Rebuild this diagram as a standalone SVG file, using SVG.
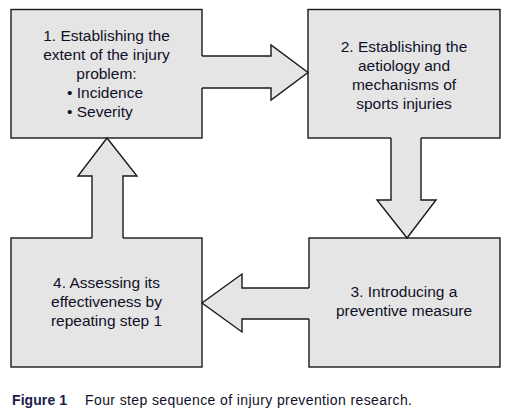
<svg xmlns="http://www.w3.org/2000/svg" width="512" height="420" viewBox="0 0 512 420">
<style>
.box{fill:#e5e5e5;stroke:#1a1a1a;stroke-width:1.4}
.af{fill:#e5e5e5;stroke:none}
.as{fill:none;stroke:#1a1a1a;stroke-width:1.4;stroke-linejoin:miter}
.t{font-family:"Liberation Sans",Arial,sans-serif;font-size:15.5px;fill:#101028;text-anchor:middle}
.tl{text-anchor:start}
.cap{font-family:"Liberation Sans",Arial,sans-serif;font-size:14px;fill:#101028}
.capb{font-weight:bold;fill:#1c1c4a}
</style>
<rect width="512" height="420" fill="#ffffff"/>
<g id="node1">
<rect class="box" x="11" y="9.5" width="191" height="128.5"/>
<text class="t" x="106.5" y="41">1. Establishing the</text>
<text class="t" x="106.5" y="60">extent of the injury</text>
<text class="t" x="106.5" y="79">problem:</text>
<text class="t tl" x="67" y="98">• Incidence</text>
<text class="t tl" x="67" y="117">• Severity</text>
</g>
<g id="node2">
<rect class="box" x="308" y="9.5" width="192" height="128.5"/>
<text class="t" x="404" y="52">2. Establishing the</text>
<text class="t" x="404" y="71">aetiology and</text>
<text class="t" x="404" y="90">mechanisms of</text>
<text class="t" x="404" y="109">sports injuries</text>
</g>
<g id="node3">
<rect class="box" x="309" y="238" width="191" height="129"/>
<text class="t" x="404" y="297">3. Introducing a</text>
<text class="t" x="404" y="316">preventive measure</text>
</g>
<g id="node4">
<rect class="box" x="11" y="238" width="191" height="129"/>
<text class="t" x="106.5" y="288">4. Assessing its</text>
<text class="t" x="106.5" y="307">effectiveness by</text>
<text class="t" x="106.5" y="326">repeating step 1</text>
</g>
<g id="connectors">
<g id="arrow1to2">
<path class="af" d="M200,56 L271,56 L271,45 L308,72.5 L271,100 L271,88 L200,88 Z"/>
<path class="as" d="M202,56 L271,56 L271,45 L308,72.5 L271,100 L271,88 L202,88"/>
</g>
<g id="arrow2to3">
<path class="af" d="M391,136 L391,200 L377,200 L407,238 L436,200 L421,200 L421,136 Z"/>
<path class="as" d="M391,138 L391,200 L377,200 L407,238 L436,200 L421,200 L421,138"/>
</g>
<g id="arrow3to4">
<path class="af" d="M311,288 L242,288 L242,274 L202,303 L242,332 L242,319 L311,319 Z"/>
<path class="as" d="M309,288 L242,288 L242,274 L202,303 L242,332 L242,319 L309,319"/>
</g>
<g id="arrow4to1">
<path class="af" d="M92,240 L92,176 L78,176 L107,138 L137,176 L123,176 L123,240 Z"/>
<path class="as" d="M92,238 L92,176 L78,176 L107,138 L137,176 L123,176 L123,238"/>
</g>
</g>
<g id="caption">
<text class="cap capb" x="12" y="405" textLength="55" lengthAdjust="spacing">Figure 1</text>
<text class="cap" x="85" y="405" textLength="327" lengthAdjust="spacing">Four step sequence of injury prevention research.</text>
</g>
</svg>
